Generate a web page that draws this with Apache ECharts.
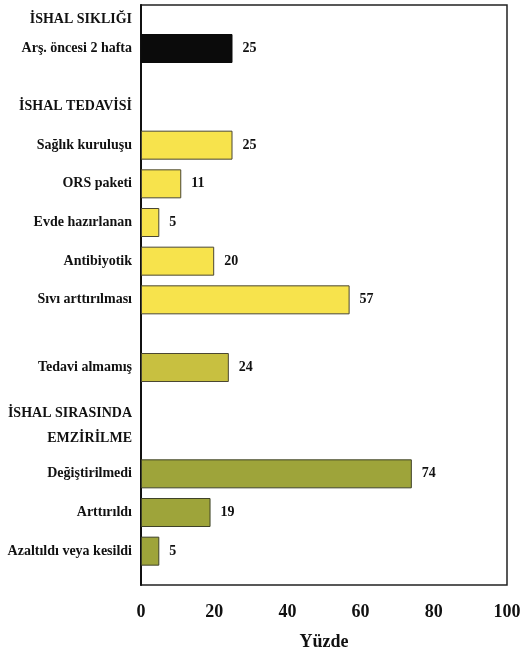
<!DOCTYPE html>
<html>
<head>
<meta charset="utf-8">
<script src="https://cdn.jsdelivr.net/npm/echarts@6/dist/echarts.min.js"></script>
<style>
html,body{margin:0;padding:0;background:#fff;}
#chart{width:522px;height:659px;}
</style>
</head>
<body>
<div id="chart"></div>
<script>
// Row slots of the category axis (top to bottom); '' are spacing rows
const categories = [
  '', 'İSHAL SIKLIĞI', '', '', 'Arş. öncesi 2 hafta', '', '', '', '', '',
  'İSHAL TEDAVİSİ', '', '', '', 'Sağlık kuruluşu', '', '', '', 'ORS paketi', '',
  '', '', 'Evde hazırlanan', '', '', '', 'Antibiyotik', '', '', '',
  'Sıvı arttırılması', '', '', '', '', '', '', 'Tedavi almamış', '', '',
  '', '', '', 'İSHAL SIRASINDA\nEMZİRİLME', '', '', '', '', 'Değiştirilmedi', '',
  '', '', 'Arttırıldı', '', '', '', 'Azaltıldı veya kesildi', '', '', ''
];

const freqNames = ['Arş. öncesi 2 hafta'];
const freqValues = [25];

const treatNames = ['Sağlık kuruluşu', 'ORS paketi', 'Evde hazırlanan', 'Antibiyotik', 'Sıvı arttırılması'];
const treatValues = [25, 11, 5, 20, 57];

const noTreatNames = ['Tedavi almamış'];
const noTreatValues = [24];

const bfNames = ['Değiştirilmedi', 'Arttırıldı', 'Azaltıldı veya kesildi'];
const bfValues = [74, 19, 5];

const xTicks = [0, 20, 40, 60, 80, 100];

const FONT = 'Liberation Serif';

function pairs(names, values) {
  return names.map((n, i) => [values[i], n]);
}

function barSeries(names, values, color, border) {
  return {
    type: 'bar',
    data: pairs(names, values),
    barWidth: 29,
    barGap: '-100%',
    itemStyle: { color: color, borderColor: border, borderWidth: 1 },
    label: {
      show: true, position: 'right', distance: 10,
      fontFamily: FONT, fontSize: 14, fontWeight: 'bold', color: '#111'
    },
    emphasis: { disabled: true },
    animation: false
  };
}

const chart = echarts.init(document.getElementById('chart'));
chart.setOption({
  backgroundColor: '#fff',
  animation: false,
  grid: {
    left: 141, right: 15, top: 5, bottom: 74,
    outerBoundsMode: 'none',
    containLabel: false,
    show: true, borderColor: '#222', borderWidth: 1.5, backgroundColor: 'transparent'
  },
  xAxis: {
    type: 'value',
    min: xTicks[0], max: xTicks[xTicks.length - 1], interval: 20,
    splitLine: { show: false },
    axisLine: { show: false },
    axisTick: { show: false },
    axisLabel: {
      margin: 18, fontFamily: FONT, fontSize: 18, fontWeight: 'bold', color: '#111'
    },
    name: 'Yüzde',
    nameLocation: 'middle',
    nameGap: 48,
    nameTextStyle: { fontFamily: FONT, fontSize: 18, fontWeight: 'bold', color: '#111' }
  },
  yAxis: {
    type: 'category',
    inverse: true,
    data: categories,
    axisLine: { show: true, lineStyle: { color: '#111', width: 2 } },
    axisTick: { show: false },
    splitLine: { show: false },
    axisLabel: {
      interval: 0,
      margin: 9,
      fontFamily: FONT, fontSize: 14, fontWeight: 'bold', color: '#111',
      lineHeight: 25,
      align: 'right'
    }
  },
  series: [
    barSeries(freqNames, freqValues, '#0b0b0b', '#0b0b0b'),
    barSeries(treatNames, treatValues, '#f7e34c', '#4a4632'),
    barSeries(noTreatNames, noTreatValues, '#c8c040', '#4a4632'),
    barSeries(bfNames, bfValues, '#9ea43a', '#3f4228')
  ]
});
</script>
</body>
</html>
